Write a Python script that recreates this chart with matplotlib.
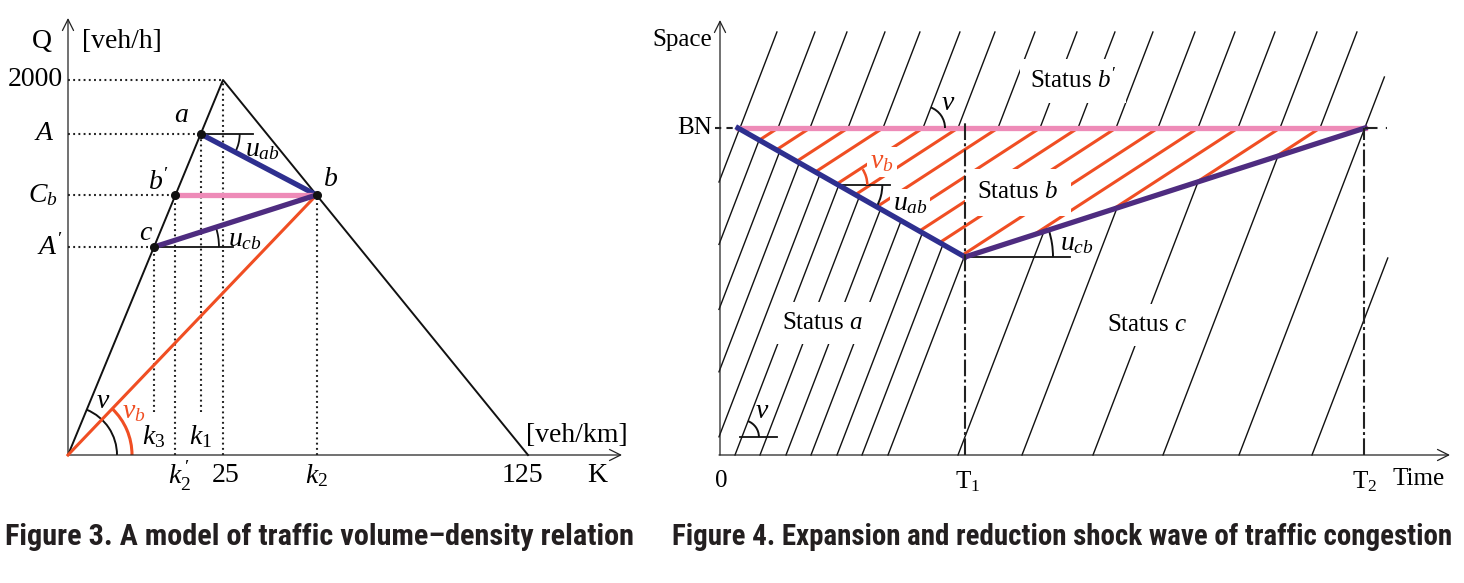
import numpy as np
import matplotlib.pyplot as plt
from matplotlib.patches import Arc
from matplotlib import font_manager

plt.rcParams['font.family'] = ['Liberation Serif', 'DejaVu Serif']
plt.rcParams['mathtext.fontset'] = 'custom'
plt.rcParams['mathtext.rm'] = 'Liberation Serif'
plt.rcParams['mathtext.it'] = 'Liberation Serif:italic'

# colours
NAVY = '#2e2f8f'
PURPLE = '#4e2c80'
PINK = '#ee8bb8'
RED = '#f04e23'

# ---------------- Figure 3 : volume-density (drawing units) ----------------
k_peak, q_cap = 155, 375          # drawn spot of (25 veh/km, 2000 veh/h)
k_jam = 460                       # drawn spot of 125 veh/km
level_names = ['$A$', '$C_b$', "$A'$"]
level_q = [321, 260, 208]         # a, b'/b, c
level_right = [-13, -10, -5]
k_tick_names = ['$k_2^{\\,\\prime}$', '25', '$k_2$', '125']
k_upper_names = ['$k_3$', '$k_1$']

# ---------------- Figure 4 : time-space (drawing units) --------------------
bn_space = 327                    # bottleneck position BN
t_start, t1, t2 = 19, 246, 646    # queue start, T1, T2
s_vertex = 198                    # lowest tail of queue at T1
top_space = 423
free_slope = 2.6                  # trajectories at speed v
cong_slope = 0.65                 # trajectories at speed v_b
bprime_cross = [21, 59, 91, 129, 164, 204, 239, 279, 321, 359, 397, 439,
                479, 519, 561, 601]
a_starts = [-105, -81, -56, -32, -7, 16, 41, 67, 92, 118, 143, 169]
c_starts = [239, 303, 374, 444, 520, 593]
c_tops = [None, None, None, None, 378, 197]

captions = ['Figure 3. A model of traffic volume\u2013density relation',
            'Figure 4. Expansion and reduction shock wave of traffic congestion']

fig = plt.figure(figsize=(14.64, 5.83), dpi=100)
axL = fig.add_axes([0, 0, 640 / 1464, 1])
axL.set_xlim(-68, 572)
axL.set_ylim(-128, 455)
axR = fig.add_axes([640 / 1464, 0, 824 / 1464, 1])
axR.set_xlim(-79, 745)
axR.set_ylim(-128, 455)
for ax in (axL, axR):
    ax.axis('off')

arrow = dict(arrowstyle='->', lw=0.9, color='#222222', mutation_scale=20,
             shrinkA=0, shrinkB=0)
dotted = dict(color='#222222', lw=1.5, linestyle=(0, (0.9, 1.6)))
fs = 20

# ---------- left diagram ----------
ax = axL
ax.annotate('', xy=(0, 437), xytext=(0, 0), arrowprops=arrow)
ax.annotate('', xy=(554, 0), xytext=(0, 0), arrowprops=arrow)
ax.plot([0, k_peak, k_jam], [0, q_cap, 0], color='#111111', lw=1.4, zorder=3)

free_k = [q * k_peak / q_cap for q in level_q]
kb = k_peak + (q_cap - level_q[1]) * (k_jam - k_peak) / q_cap
qa, qb, qc = level_q
ka, kbp, kc = free_k

for k, q in [(k_peak, q_cap)] + list(zip(free_k, level_q)):
    ax.plot([0, k], [q, q], **dotted)
for k, q, bottom in [(k_peak, q_cap, 0), (kbp, qb, 0), (kb, qb, 0),
                     (ka, qa, 43), (kc, qc, 43)]:
    ax.plot([k, k], [bottom, q], **dotted)

ax.plot([0, kb], [0, qb], color=RED, lw=2.2, zorder=4)
ax.plot([ka, kb], [qa, qb], color=NAVY, lw=3.8, zorder=5)
ax.plot([kbp, kb], [qb, qb], color=PINK, lw=3.8, zorder=5)
ax.plot([kc, kb], [qc, qb], color=PURPLE, lw=3.8, zorder=5)
ax.plot([ka, kbp, kc, kb], [qa, qb, qc, qb], 'o', color='#111111', ms=5.5, zorder=6)

ax.plot([ka, ka + 52], [qa, qa], color='#111111', lw=1.3)
ax.plot([kc, kc + 79], [qc, qc], color='#111111', lw=1.3)
ang_ab = np.degrees(np.arctan2(qb - qa, kb - ka))
ang_cb = np.degrees(np.arctan2(qb - qc, kb - kc))
ax.add_patch(Arc((ka, qa), 78, 78, theta1=ang_ab, theta2=0, color='#111111', lw=1.3))
ax.add_patch(Arc((kc, qc), 130, 130, theta1=0, theta2=ang_cb, color='#111111', lw=1.3))
ang_v = np.degrees(np.arctan2(q_cap, k_peak))
ang_vb = np.degrees(np.arctan2(qb, kb))
ax.add_patch(Arc((0, 0), 98, 98, theta1=0, theta2=ang_v, color='#111111', lw=1.4))
ax.add_patch(Arc((0, 0), 128, 128, theta1=0, theta2=ang_vb, color=RED, lw=2.2))

ax.text(-26, 413, 'Q', fontsize=fs, ha='center', va='center')
ax.text(54, 413, '[veh/h]', fontsize=fs, ha='center', va='center')
ax.text(-5, q_cap, '2000', fontsize=fs, ha='right', va='center')
for name, q, r in zip(level_names, level_q, level_right):
    ax.text(r, q, name, fontsize=fs, ha='right', va='center')
ax.text(113, 340, '$a$', fontsize=fs, ha='center', va='center')
ax.text(91, 273, "$b'$", fontsize=fs, ha='center', va='center')
ax.text(78, 222, '$c$', fontsize=fs, ha='center', va='center')
ax.text(263, 275, '$b$', fontsize=fs, ha='center', va='center')
ax.text(194, 305, '$u_{ab}$', fontsize=fs, ha='center', va='center')
ax.text(177, 215, '$u_{cb}$', fontsize=fs, ha='center', va='center')
ax.text(35, 53, '$\\nu$', fontsize=fs, ha='center', va='center')
ax.text(66, 43, '$\\nu_b$', fontsize=fs, ha='center', va='center', color=RED)
for name, k in zip(k_upper_names, [kc, ka]):
    ax.text(k, 18, name, fontsize=fs, ha='center', va='center')
for name, k in zip(k_tick_names, [kbp + 4, k_peak + 3, kb, k_jam - 6]):
    ax.text(k, -21, name, fontsize=fs, ha='center', va='center')
ax.text(529, -21, 'K', fontsize=fs, ha='center', va='center')
ax.text(509, 19, '[veh/km]', fontsize=fs, ha='center', va='center')

# ---------- right diagram ----------
ax = axR
ax.annotate('', xy=(1, 435), xytext=(1, 0), arrowprops=arrow)
ax.annotate('', xy=(731, 0), xytext=(0, 0), arrowprops=arrow)

mb = (bn_space - s_vertex) / (t1 - t_start)    # back-moving queue tail
mp = (bn_space - s_vertex) / (t2 - t1)         # recovering queue tail
traj = dict(color='#111111', lw=1.0, zorder=1)

for x0 in a_starts:
    xs = max(x0, 0)
    ys = free_slope * (xs - x0)
    xe = (free_slope * x0 + bn_space + mb * t_start) / (free_slope + mb)
    ax.plot([xs, xe], [ys, free_slope * (xe - x0)], **traj)

for x0, top in zip(c_starts, c_tops):
    if top is None:
        xe = (free_slope * x0 + s_vertex - mp * t1) / (free_slope - mp)
        top = free_slope * (xe - x0)
    ax.plot([x0, x0 + top / free_slope], [0, top], **traj)

for xc in bprime_cross:
    ax.plot([xc, xc + (top_space - bn_space) / free_slope],
            [bn_space, top_space], **traj)

for xc in bprime_cross[1:]:
    xe = (cong_slope * xc + mb * t_start) / (cong_slope + mb)
    if xe > t1:
        xe = (s_vertex - mp * t1 - bn_space + cong_slope * xc) / (cong_slope - mp)
    ax.plot([xe, xc], [bn_space - cong_slope * (xc - xe), bn_space],
            color=RED, lw=2.2, zorder=1)

ax.plot([t_start, t2], [bn_space, bn_space], color=PINK, lw=3.8, zorder=4)
ax.plot([t_start, t1], [bn_space, s_vertex], color=NAVY, lw=3.8, zorder=4)
ax.plot([t1, t2], [s_vertex, bn_space], color=PURPLE, lw=3.8, zorder=4)

dashdot = dict(color='#222222', lw=1.5, linestyle=(0, (8, 1.6, 1.4, 1.6)), zorder=5)
ax.plot([t1, t1], [0, bn_space + 5], **dashdot)
ax.plot([t2 - 1, t2 - 1], [0, bn_space], **dashdot)
ax.plot([-4, t_start], [bn_space, bn_space], color='#222222', lw=1.5,
        linestyle=(0, (3, 2.5)), zorder=5)
ax.plot([t2, t2 + 22], [bn_space, bn_space], color='#222222', lw=1.5,
        linestyle=(0, (6, 4, 1, 3)), zorder=5)

# angle marks
xv = 16 + 18 / free_slope
ang_free = np.degrees(np.arctan(free_slope))
ax.plot([xv - 2, 58], [18, 18], color='#111111', lw=1.3)
ax.add_patch(Arc((xv, 18), 34, 34, theta1=0, theta2=ang_free, color='#111111', lw=1.4))
ax.add_patch(Arc((bprime_cross[5], bn_space), 44, 44, theta1=0, theta2=ang_free,
                 color='#111111', lw=1.4, zorder=4))
xu = t_start + (bn_space - 270) / mb
ax.plot([xu, xu + 52], [270, 270], color='#111111', lw=1.3, zorder=3)
ax.add_patch(Arc((xu, 270), 88, 88, theta1=-np.degrees(np.arctan(mb)), theta2=0,
                 color='#111111', lw=1.4, zorder=3))
ax.add_patch(Arc((xu, 270), 58, 58, theta1=0, theta2=np.degrees(np.arctan(cong_slope)),
                 color=RED, lw=1.8, zorder=3))
ax.plot([t1, t1 + 105], [s_vertex, s_vertex], color='#111111', lw=1.3, zorder=3)
ax.add_patch(Arc((t1, s_vertex), 176, 176, theta1=0, theta2=np.degrees(np.arctan(mp)),
                 color='#111111', lw=1.4, zorder=3))

white = dict(facecolor='white', edgecolor='none', pad=2)
ax.text(163, 293, '$\\nu_b$', fontsize=fs, ha='center', va='center', color=RED,
        bbox=white, zorder=2)
ax.text(191, 251, '$u_{ab}$', fontsize=fs, ha='center', va='center',
        bbox=white, zorder=2)
ax.text(358, 211, '$u_{cb}$', fontsize=fs, ha='center', va='center')
ax.text(229, 351, '$\\nu$', fontsize=fs, ha='center', va='center')
ax.text(43, 43, '$\\nu$', fontsize=fs, ha='center', va='center')

sfs = 18
box = dict(facecolor='white', edgecolor='none', pad=7)
ax.text(354, 374, "Status $b'$", fontsize=sfs, ha='center', va='center', bbox=box, zorder=2)
ax.text(299, 263, 'Status $b$', fontsize=sfs, ha='center', va='center', zorder=2,
        bbox=dict(facecolor='white', edgecolor='none', pad=9))
ax.text(103, 132, 'Status $a$', fontsize=sfs, ha='center', va='center', bbox=box, zorder=2)
ax.text(428, 130, 'Status $c$', fontsize=sfs, ha='center', va='center', bbox=box, zorder=2)

ax.text(-7, 415, 'Space', fontsize=sfs, ha='right', va='center')
ax.text(-7, bn_space, 'BN', fontsize=sfs, ha='right', va='center')
ax.text(2, -26, '0', fontsize=sfs, ha='center', va='center')
ax.text(t1 + 3, -27, '$\\mathrm{T}_1$', fontsize=sfs, ha='center', va='center')
ax.text(t2, -27, '$\\mathrm{T}_2$', fontsize=sfs, ha='center', va='center')
ax.text(700, -24, 'Time', fontsize=sfs, ha='center', va='center')

# captions: a condensed bold sans if one is installed, fitted to the width
narrow = [f.name for f in font_manager.fontManager.ttflist
          if 'Condensed' in f.name or 'Narrow' in f.name]
narrow.sort(key=lambda n: ('Roboto' not in n, n))
cap_family = narrow[:1] + ['Liberation Sans', 'DejaVu Sans']
cap_left = [5, 672]
cap_width = [628, 780]
renderer = fig.canvas.get_renderer()
for text, left, width in zip(captions, cap_left, cap_width):
    t = fig.text(left / 1464, 1 - 537 / 583, text, ha='left', va='center',
                 fontsize=20, fontweight='bold', color='#231f20', family=cap_family)
    w = t.get_window_extent(renderer=renderer).width
    t.set_fontsize(min(22, 20 * width / w))

fig.savefig('out.png', dpi=100)
